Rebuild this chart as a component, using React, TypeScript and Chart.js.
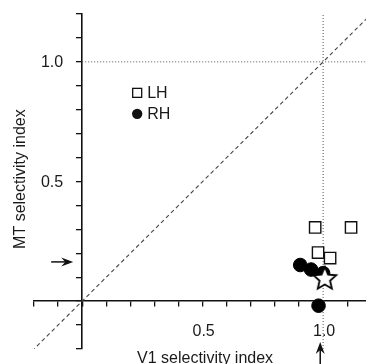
import React, { useEffect, useRef } from 'react';
import { Chart, registerables } from 'chart.js';

Chart.register(...registerables);

// ---- data ----
const lhV1 = [0.967, 1.116, 0.979, 1.029];
const lhMT = [0.308, 0.308, 0.203, 0.18];
const rhV1 = [0.905, 0.95, 1.0, 0.981];
const rhMT = [0.151, 0.132, 0.117, -0.019];
const starV1 = [1.007];
const starMT = [0.093];
const meanV1 = 0.988;
const meanMT = 0.164;
const unityRange = [-0.25, 1.25];
const refValue = 1.0;
const xTicks = [-0.2, -0.1, 0, 0.1, 0.2, 0.3, 0.4, 0.5, 0.6, 0.7, 0.8, 0.9, 1.0, 1.1];
const yTicks = [-0.2, -0.1, 0, 0.1, 0.2, 0.3, 0.4, 0.5, 0.6, 0.7, 0.8, 0.9, 1.0, 1.1, 1.2];
const xTickLabels = ['0.5', '1.0'];
const yTickLabels = ['0.5', '1.0'];
const xRange = [-0.2, 1.178];
const yRange = [-0.2, 1.2];
const seriesLabels = ['LH', 'RH', 'mean'];
const xTitle = 'V1 selectivity index';
const yTitle = 'MT selectivity index';
const titleCenterValue = 0.51;

const FONT = "Arial, 'Liberation Sans', Helvetica, sans-serif";

function makeStar(R: number, lw: number): HTMLCanvasElement {
  const size = Math.ceil(2 * R + lw * 2 + 2);
  const c = document.createElement('canvas');
  c.width = size;
  c.height = size;
  const g = c.getContext('2d')!;
  const cx = size / 2;
  const cy = size / 2;
  const r = R * 0.46;
  g.beginPath();
  for (let i = 0; i < 10; i++) {
    const a = -Math.PI / 2 + (i * Math.PI) / 5;
    const rr = i % 2 === 0 ? R : r;
    g.lineTo(cx + rr * Math.cos(a), cy + rr * Math.sin(a));
  }
  g.closePath();
  g.fillStyle = '#fff';
  g.fill();
  g.lineWidth = lw;
  g.strokeStyle = '#000';
  g.lineJoin = 'miter';
  g.stroke();
  return c;
}

function drawArrow(ctx: CanvasRenderingContext2D, x1: number, y1: number, x2: number, y2: number) {
  const ang = Math.atan2(y2 - y1, x2 - x1);
  const hl = 12;
  const hw = 4.5;
  const notch = 8;
  ctx.save();
  ctx.strokeStyle = '#111';
  ctx.fillStyle = '#111';
  ctx.lineWidth = 1.5;
  ctx.beginPath();
  ctx.moveTo(x1, y1);
  ctx.lineTo(x2 - notch * Math.cos(ang), y2 - notch * Math.sin(ang));
  ctx.stroke();
  ctx.translate(x2, y2);
  ctx.rotate(ang);
  ctx.beginPath();
  ctx.moveTo(0, 0);
  ctx.lineTo(-hl, -hw);
  ctx.lineTo(-notch, 0);
  ctx.lineTo(-hl, hw);
  ctx.closePath();
  ctx.fill();
  ctx.restore();
}

const overlayPlugin = {
  id: 'overlay',
  afterDraw(chart: any) {
    const { ctx, chartArea, scales } = chart;
    const xs = scales.x;
    const ys = scales.y;
    const x0 = xs.getPixelForValue(0);
    const y0 = ys.getPixelForValue(0);
    ctx.save();

    // tick labels
    ctx.fillStyle = '#1a1a1a';
    ctx.font = `16px ${FONT}`;
    ctx.textBaseline = 'alphabetic';
    ctx.textAlign = 'center';
    xTickLabels.forEach((t) => {
      ctx.fillText(t, xs.getPixelForValue(Number(t)) + 1, y0 + 35);
    });
    ctx.textAlign = 'right';
    yTickLabels.forEach((t) => {
      ctx.fillText(t, x0 - 19, ys.getPixelForValue(Number(t)) + 5.5);
    });

    // mean arrows
    const yArrow = ys.getPixelForValue(meanMT);
    drawArrow(ctx, x0 - 31, yArrow, x0 - 9, yArrow);
    const xArrow = xs.getPixelForValue(meanV1);
    drawArrow(ctx, xArrow, chartArea.bottom + 17, xArrow, chartArea.bottom - 7);

    // axis titles
    ctx.fillStyle = '#1a1a1a';
    ctx.textAlign = 'center';
    ctx.textBaseline = 'alphabetic';
    ctx.fillText(xTitle, xs.getPixelForValue(titleCenterValue), chartArea.bottom + 14);
    ctx.save();
    ctx.translate(x0 - 57, ys.getPixelForValue(titleCenterValue));
    ctx.rotate(-Math.PI / 2);
    ctx.fillText(yTitle, 0, 0);
    ctx.restore();

    // legend
    const lx = x0 + 55;
    const ly1 = ys.getPixelForValue(1.0) + 31;
    const ly2 = ly1 + 21;
    ctx.strokeStyle = '#111';
    ctx.lineWidth = 1.3;
    ctx.strokeRect(lx - 4.5, ly1 - 4.5, 9, 9);
    ctx.beginPath();
    ctx.arc(lx, ly2, 5.2, 0, Math.PI * 2);
    ctx.fillStyle = '#111';
    ctx.fill();
    ctx.fillStyle = '#1a1a1a';
    ctx.textAlign = 'left';
    ctx.textBaseline = 'middle';
    ctx.fillText(seriesLabels[0], lx + 10, ly1 + 1);
    ctx.fillText(seriesLabels[1], lx + 10, ly2 + 1);
    ctx.restore();
  },
};

export default function App() {
  const ref = useRef<HTMLCanvasElement>(null);

  useEffect(() => {
    const canvas = ref.current;
    if (!canvas) return;
    const star = makeStar(12, 1.8);

    const axisCommon = {
      type: 'linear',
      grid: {
        display: true,
        drawOnChartArea: false,
        drawTicks: true,
        tickLength: 5,
        color: '#111',
        lineWidth: 1.3,
      },
      border: { display: true, color: '#111', width: 1.6 },
      ticks: { display: false, padding: 0 },
    };

    const chart = new Chart(canvas, {
      type: 'scatter',
      data: {
        datasets: [
          {
            type: 'line',
            label: 'unity',
            data: unityRange.map((v) => ({ x: v, y: v })),
            borderColor: '#444',
            borderWidth: 1.1,
            borderDash: [4, 3],
            pointRadius: 0,
            order: 5,
          },
          {
            type: 'line',
            label: 'ref-h',
            data: [
              { x: 0, y: refValue },
              { x: xRange[1], y: refValue },
            ],
            borderColor: '#555',
            borderWidth: 1,
            borderDash: [1, 2],
            pointRadius: 0,
            order: 5,
          },
          {
            type: 'line',
            label: 'ref-v',
            data: [
              { x: refValue, y: yRange[0] },
              { x: refValue, y: yRange[1] },
            ],
            borderColor: '#555',
            borderWidth: 1,
            borderDash: [1, 2],
            pointRadius: 0,
            order: 5,
          },
          {
            label: seriesLabels[0],
            data: lhV1.map((x, i) => ({ x, y: lhMT[i] })),
            pointStyle: 'rect',
            pointRadius: 8,
            pointBorderWidth: 1.4,
            pointBorderColor: '#111',
            pointBackgroundColor: '#fff',
            order: 3,
          },
          {
            label: seriesLabels[1],
            data: rhV1.map((x, i) => ({ x, y: rhMT[i] })),
            pointStyle: 'circle',
            pointRadius: 6.8,
            pointBorderWidth: 1,
            pointBorderColor: '#000',
            pointBackgroundColor: '#000',
            order: 2,
          },
          {
            label: seriesLabels[2],
            data: starV1.map((x, i) => ({ x, y: starMT[i] })),
            pointStyle: star as any,
            pointRadius: 12,
            order: 1,
          },
        ],
      },
      options: {
        animation: false,
        responsive: false,
        events: [],
        layout: { autoPadding: false, padding: { left: 34, right: 0, top: 14, bottom: 15 } },
        plugins: { legend: { display: false }, tooltip: { enabled: false } },
        scales: {
          x: {
            ...axisCommon,
            min: xRange[0],
            max: xRange[1],
            position: { y: 0 } as any,
            afterBuildTicks: (s: any) => {
              s.ticks = xTicks.map((v) => ({ value: v }));
            },
          },
          y: {
            ...axisCommon,
            min: yRange[0],
            max: yRange[1],
            position: { x: 0 } as any,
            afterBuildTicks: (s: any) => {
              s.ticks = yTicks.map((v) => ({ value: v }));
            },
          },
        },
      },
      plugins: [overlayPlugin],
    } as any);
    return () => chart.destroy();
  }, []);

  return (
    <div style={{ position: 'fixed', left: 0, top: 0, width: 366, height: 364, background: '#fff', overflow: 'hidden' }}>
      <canvas ref={ref} width={366} height={364} style={{ display: 'block' }} />
    </div>
  );
}
